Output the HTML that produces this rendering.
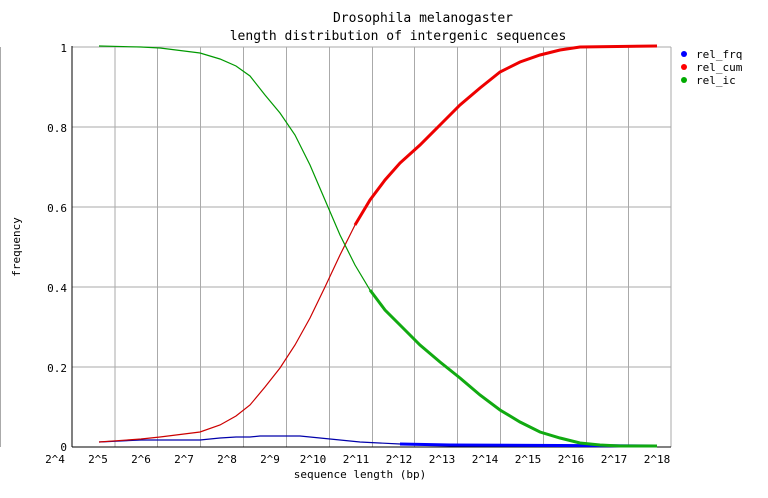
<!DOCTYPE html>
<html><head><style>body{margin:0;background:#fff}svg{display:block}text{font-family:"DejaVu Sans Mono","Liberation Mono",monospace;font-size:11px;fill:#000}</style></head>
<body>
<svg width="768" height="498" xmlns="http://www.w3.org/2000/svg">
<line x1="0.5" y1="47" x2="0.5" y2="447" stroke="#aaa"/>
<g stroke="#aaa" stroke-width="1">
<line x1="72" y1="47" x2="671" y2="47"/><line x1="72" y1="127" x2="671" y2="127"/><line x1="72" y1="207" x2="671" y2="207"/><line x1="72" y1="287" x2="671" y2="287"/><line x1="72" y1="367" x2="671" y2="367"/>
<line x1="115" y1="47" x2="115" y2="447"/><line x1="157.5" y1="47" x2="157.5" y2="447"/><line x1="200.5" y1="47" x2="200.5" y2="447"/><line x1="243.5" y1="47" x2="243.5" y2="447"/><line x1="286.5" y1="47" x2="286.5" y2="447"/><line x1="329.5" y1="47" x2="329.5" y2="447"/><line x1="372.5" y1="47" x2="372.5" y2="447"/><line x1="414.5" y1="47" x2="414.5" y2="447"/><line x1="457.5" y1="47" x2="457.5" y2="447"/><line x1="500.5" y1="47" x2="500.5" y2="447"/><line x1="543.5" y1="47" x2="543.5" y2="447"/><line x1="586.5" y1="47" x2="586.5" y2="447"/><line x1="628.5" y1="47" x2="628.5" y2="447"/><line x1="671" y1="47" x2="671" y2="447"/>
</g>
<line x1="72" y1="46" x2="72" y2="447" stroke="#000"/><line x1="72" y1="447" x2="671" y2="447" stroke="#000"/>
<g text-anchor="end"><text x="67" y="52">1</text><text x="67" y="132">0.8</text><text x="67" y="212">0.6</text><text x="67" y="292">0.4</text><text x="67" y="372">0.2</text><text x="67" y="451">0</text></g>
<g text-anchor="middle">
<text x="55" y="463">2^4</text><text x="98" y="463">2^5</text><text x="141" y="463">2^6</text><text x="184" y="463">2^7</text><text x="227" y="463">2^8</text><text x="270" y="463">2^9</text><text x="313" y="463">2^10</text><text x="356" y="463">2^11</text><text x="399" y="463">2^12</text><text x="442" y="463">2^13</text><text x="485" y="463">2^14</text><text x="528" y="463">2^15</text><text x="571" y="463">2^16</text><text x="614" y="463">2^17</text><text x="657" y="463">2^18</text>
<text x="360" y="478">sequence length (bp)</text>
<text x="423" y="22" font-size="13" style="font-size:13px">Drosophila melanogaster</text>
<text x="398" y="40" style="font-size:13px">length distribution of intergenic sequences</text>
</g>
<text transform="translate(20,247) rotate(-90)" text-anchor="middle">frequency</text>
<polyline fill="none" stroke="#00a" stroke-width="1.2" points="99,442 141,440 200,440 220,438 236,437 250,437 260,436 300,436 320,438 340,440 360,442 400,444 450,445 657,446"/>
<polyline fill="none" stroke="#00f" stroke-width="3" points="400,444 450,445 657,446"/>
<polyline fill="none" stroke="#c00" stroke-width="1.2" points="99,442 141,439 160,437 200,432 220,425 236,416 250,405 265,387 280,368 295,345 310,318 325,287 340,255 355,225 370,200 385,180 400,163 420,145 440,125 460,105 480,88 500,72 520,62 540,55 560,50 580,47 657,46"/>
<polyline fill="none" stroke="#e00" stroke-width="3" points="355,225 370,200 385,180 400,163 420,145 440,125 460,105 480,88 500,72 520,62 540,55 560,50 580,47 657,46"/>
<polyline fill="none" stroke="#090" stroke-width="1.2" points="99,46 141,47 160,48 200,53 220,59 236,66 250,76 265,95 280,113 295,135 310,165 325,200 340,235 355,265 370,290 385,310 400,325 420,345 440,362 460,378 480,395 500,410 520,422 540,432 560,438 580,443 600,445 620,446 657,446"/>
<polyline fill="none" stroke="#1a1" stroke-width="3" points="370,290 385,310 400,325 420,345 440,362 460,378 480,395 500,410 520,422 540,432 560,438 580,443 600,445 620,446 657,446"/>
<circle cx="684" cy="54" r="3" fill="#00f"/><circle cx="684" cy="67" r="3" fill="#f00"/><circle cx="684" cy="80" r="3" fill="#0a0"/>
<text x="696" y="58">rel_frq</text><text x="696" y="71">rel_cum</text><text x="696" y="84">rel_ic</text>
</svg>
</body></html>
